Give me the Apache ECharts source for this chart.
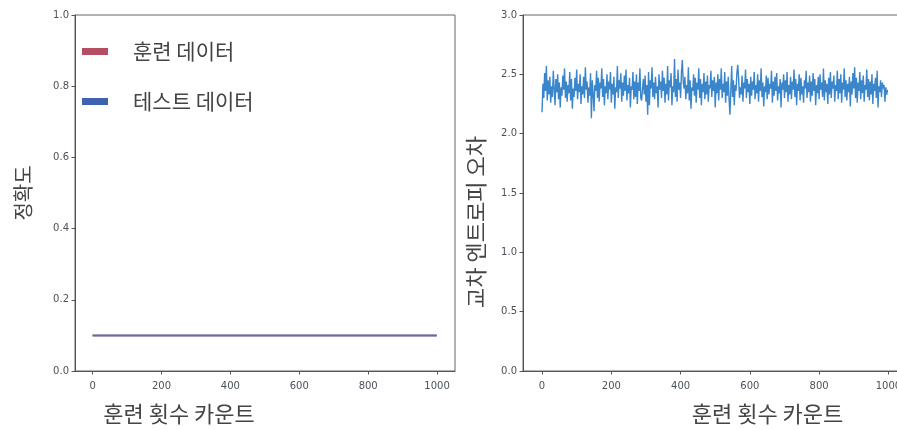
<!DOCTYPE html>
<html>
<head>
<meta charset="utf-8">
<script src="https://cdn.jsdelivr.net/npm/echarts@6/dist/echarts.min.js"></script>
<style>
html,body{margin:0;padding:0;background:#fff;}
#chart{width:897px;height:430px;}
</style>
</head>
<body>
<div id="chart"></div>
<script>
// ---- data ----
const xTicks = [0, 200, 400, 600, 800, 1000];
const accIter = [0, 200, 400, 600, 800, 999];
const trainAcc = [0.1, 0.1, 0.1, 0.1, 0.1, 0.1];
const testAcc = [0.1, 0.1, 0.1, 0.1, 0.1, 0.1];
const lossStep = 2.5;
const loss = [
  2.18, 2.42, 2.30, 2.51, 2.36, 2.57, 2.28, 2.45, 2.33, 2.48,
  2.26, 2.40, 2.31, 2.53, 2.38, 2.24, 2.46, 2.35, 2.50, 2.29,
  2.43, 2.22, 2.39, 2.32, 2.49, 2.37, 2.55, 2.30, 2.44, 2.27,
  2.41, 2.34, 2.52, 2.28, 2.46, 2.21, 2.38, 2.31, 2.47, 2.36,
  2.54, 2.29, 2.42, 2.35, 2.50, 2.25, 2.40, 2.33, 2.48, 2.30,
  2.56, 2.37, 2.44, 2.26, 2.39, 2.32, 2.51, 2.13, 2.45, 2.34,
  2.19, 2.41, 2.36, 2.53, 2.30, 2.47, 2.27, 2.43, 2.38, 2.55,
  2.31, 2.46, 2.24, 2.40, 2.34, 2.50, 2.29, 2.44, 2.37, 2.52,
  2.26, 2.42, 2.33, 2.48, 2.21, 2.39, 2.35, 2.57, 2.30, 2.45,
  2.38, 2.51, 2.27, 2.43, 2.32, 2.49, 2.36, 2.54, 2.28, 2.41,
  2.34, 2.47, 2.22, 2.40, 2.37, 2.52, 2.29, 2.44, 2.31, 2.50,
  2.25, 2.43, 2.36, 2.55, 2.30, 2.28, 2.38, 2.46, 2.33, 2.49,
  2.27, 2.41, 2.16, 2.52, 2.24, 2.45, 2.38, 2.56, 2.31, 2.43,
  2.29, 2.48, 2.34, 2.40, 2.22, 2.50, 2.37, 2.44, 2.30, 2.53,
  2.36, 2.47, 2.26, 2.42, 2.33, 2.57, 2.28, 2.45, 2.39, 2.51,
  2.24, 2.40, 2.35, 2.63, 2.31, 2.46, 2.27, 2.54, 2.37, 2.43,
  2.30, 2.52, 2.62, 2.44, 2.38, 2.48, 2.29, 2.41, 2.34, 2.56,
  2.28, 2.45, 2.21, 2.39, 2.36, 2.50, 2.32, 2.47, 2.26, 2.43,
  2.37, 2.55, 2.30, 2.46, 2.24, 2.42, 2.35, 2.51, 2.29, 2.44,
  2.33, 2.49, 2.27, 2.41, 2.38, 2.53, 2.31, 2.45, 2.36, 2.48,
  2.22, 2.43, 2.34, 2.50, 2.28, 2.46, 2.37, 2.55, 2.30, 2.42,
  2.35, 2.52, 2.26, 2.44, 2.32, 2.48, 2.29, 2.16, 2.37, 2.57,
  2.31, 2.45, 2.24, 2.41, 2.36, 2.51, 2.58, 2.47, 2.30, 2.39,
  2.33, 2.49, 2.27, 2.43, 2.38, 2.54, 2.30, 2.46, 2.35, 2.42,
  2.25, 2.48, 2.32, 2.44, 2.37, 2.52, 2.29, 2.41, 2.34, 2.50,
  2.27, 2.45, 2.36, 2.55, 2.31, 2.43, 2.23, 2.40, 2.35, 2.49,
  2.29, 2.47, 2.33, 2.42, 2.38, 2.53, 2.26, 2.44, 2.32, 2.48,
  2.36, 2.51, 2.28, 2.40, 2.34, 2.46, 2.22, 2.43, 2.37, 2.50,
  2.30, 2.45, 2.35, 2.52, 2.27, 2.41, 2.33, 2.48, 2.29, 2.44,
  2.37, 2.54, 2.31, 2.46, 2.24, 2.42, 2.36, 2.50, 2.28, 2.47,
  2.33, 2.40, 2.26, 2.45, 2.38, 2.53, 2.30, 2.43, 2.35, 2.49,
  2.27, 2.44, 2.32, 2.51, 2.36, 2.46, 2.24, 2.41, 2.34, 2.48,
  2.29, 2.50, 2.37, 2.43, 2.31, 2.55, 2.28, 2.45, 2.35, 2.42,
  2.25, 2.47, 2.33, 2.52, 2.30, 2.44, 2.38, 2.49, 2.27, 2.41,
  2.36, 2.53, 2.29, 2.46, 2.34, 2.50, 2.26, 2.43, 2.37, 2.55,
  2.31, 2.45, 2.28, 2.42, 2.35, 2.48, 2.23, 2.44, 2.33, 2.51,
  2.38, 2.56, 2.30, 2.47, 2.26, 2.43, 2.36, 2.52, 2.29, 2.45,
  2.34, 2.49, 2.27, 2.41, 2.37, 2.54, 2.31, 2.46, 2.28, 2.44,
  2.33, 2.50, 2.25, 2.42, 2.36, 2.47, 2.30, 2.53, 2.22, 2.40,
  2.35, 2.45, 2.31, 2.43, 2.38, 2.41, 2.27, 2.39, 2.33, 2.37
];
const seriesNames = ['훈련 데이터', '테스트 데이터'];
const xName = '훈련 횟수 카운트';
const yNameLeft = '정확도';
const yNameRight = '교차 엔트로피 오차';

// ---- chart ----
const KR = 'Noto Sans CJK KR';
const tickFont = {fontFamily: 'DejaVu Sans', fontSize: 10, color: '#4b525c'};
const axisLine = {show: true, onZero: false, lineStyle: {color: '#555', width: 1}};
const axisTickY = {show: true, inside: false, length: 3.5, lineStyle: {color: '#555'}};

function xAxisCfg(idx, min, max, namePad) {
  return {
    gridIndex: idx, type: 'value', min: min, max: max,
    axisLine: axisLine,
    axisTick: {show: true, length: 3.5, lineStyle: {color: '#555'}, customValues: xTicks},
    axisLabel: Object.assign({margin: 10, customValues: xTicks, formatter: v => String(v)}, tickFont),
    splitLine: {show: false},
    name: xName, nameLocation: 'middle', nameGap: 32,
    nameTextStyle: {fontFamily: KR, fontSize: 22, color: '#444', padding: namePad}
  };
}

const chart = echarts.init(document.getElementById('chart'), null, {renderer: 'canvas'});
chart.setOption({
  animation: false,
  backgroundColor: '#fff',
  grid: [
    {left: 75, top: 15, width: 380, height: 356, show: true, borderColor: '#666', borderWidth: 1,
     containLabel: false, outerBoundsMode: 'none'},
    {left: 523, top: 15, width: 381, height: 356, show: true, borderColor: '#666', borderWidth: 1,
     containLabel: false, outerBoundsMode: 'none'}
  ],
  legend: {
    orient: 'vertical', left: 77, top: 36, itemWidth: 26, itemHeight: 7, itemGap: 29,
    icon: 'rect',
    textStyle: {fontFamily: KR, fontSize: 21, color: '#444', padding: [0, 0, 0, 20]},
    data: seriesNames
  },
  xAxis: [
    xAxisCfg(0, -51, 1052, [0, 172, 0, 0]),
    xAxisCfg(1, -55, 1045, [0, 0, 0, 108])
  ],
  yAxis: [
    {
      gridIndex: 0, type: 'value', min: 0, max: 1, interval: 0.2,
      axisLine: axisLine, axisTick: axisTickY,
      axisLabel: Object.assign({margin: 6, formatter: v => v.toFixed(1)}, tickFont),
      splitLine: {show: false},
      name: yNameLeft, nameLocation: 'middle', nameGap: 42,
      nameTextStyle: {fontFamily: KR, fontSize: 20, color: '#444'}
    },
    {
      gridIndex: 1, type: 'value', min: 0, max: 3, interval: 0.5,
      axisLine: axisLine, axisTick: axisTickY,
      axisLabel: Object.assign({margin: 6, formatter: v => v.toFixed(1)}, tickFont),
      splitLine: {show: false},
      name: yNameRight, nameLocation: 'middle', nameGap: 36,
      nameTextStyle: {fontFamily: KR, fontSize: 22, color: '#444', padding: [0, 58, 0, 0]}
    }
  ],
  series: [
    {
      name: seriesNames[0], type: 'line', xAxisIndex: 0, yAxisIndex: 0,
      showSymbol: false, symbol: 'none', color: '#b54e62',
      lineStyle: {width: 2, color: '#8a5a86'},
      data: accIter.map((x, i) => [x, trainAcc[i]])
    },
    {
      name: seriesNames[1], type: 'line', xAxisIndex: 0, yAxisIndex: 0,
      showSymbol: false, symbol: 'none', color: '#3e62b0',
      lineStyle: {width: 1.5, color: '#5a6fae'},
      data: accIter.map((x, i) => [x, testAcc[i]])
    },
    {
      name: 'loss', type: 'line', xAxisIndex: 1, yAxisIndex: 1,
      showSymbol: false, symbol: 'none',
      lineStyle: {width: 1.4, color: '#3b86cb'},
      data: loss.map((v, i) => [i * lossStep, v])
    }
  ]
});
</script>
</body>
</html>
